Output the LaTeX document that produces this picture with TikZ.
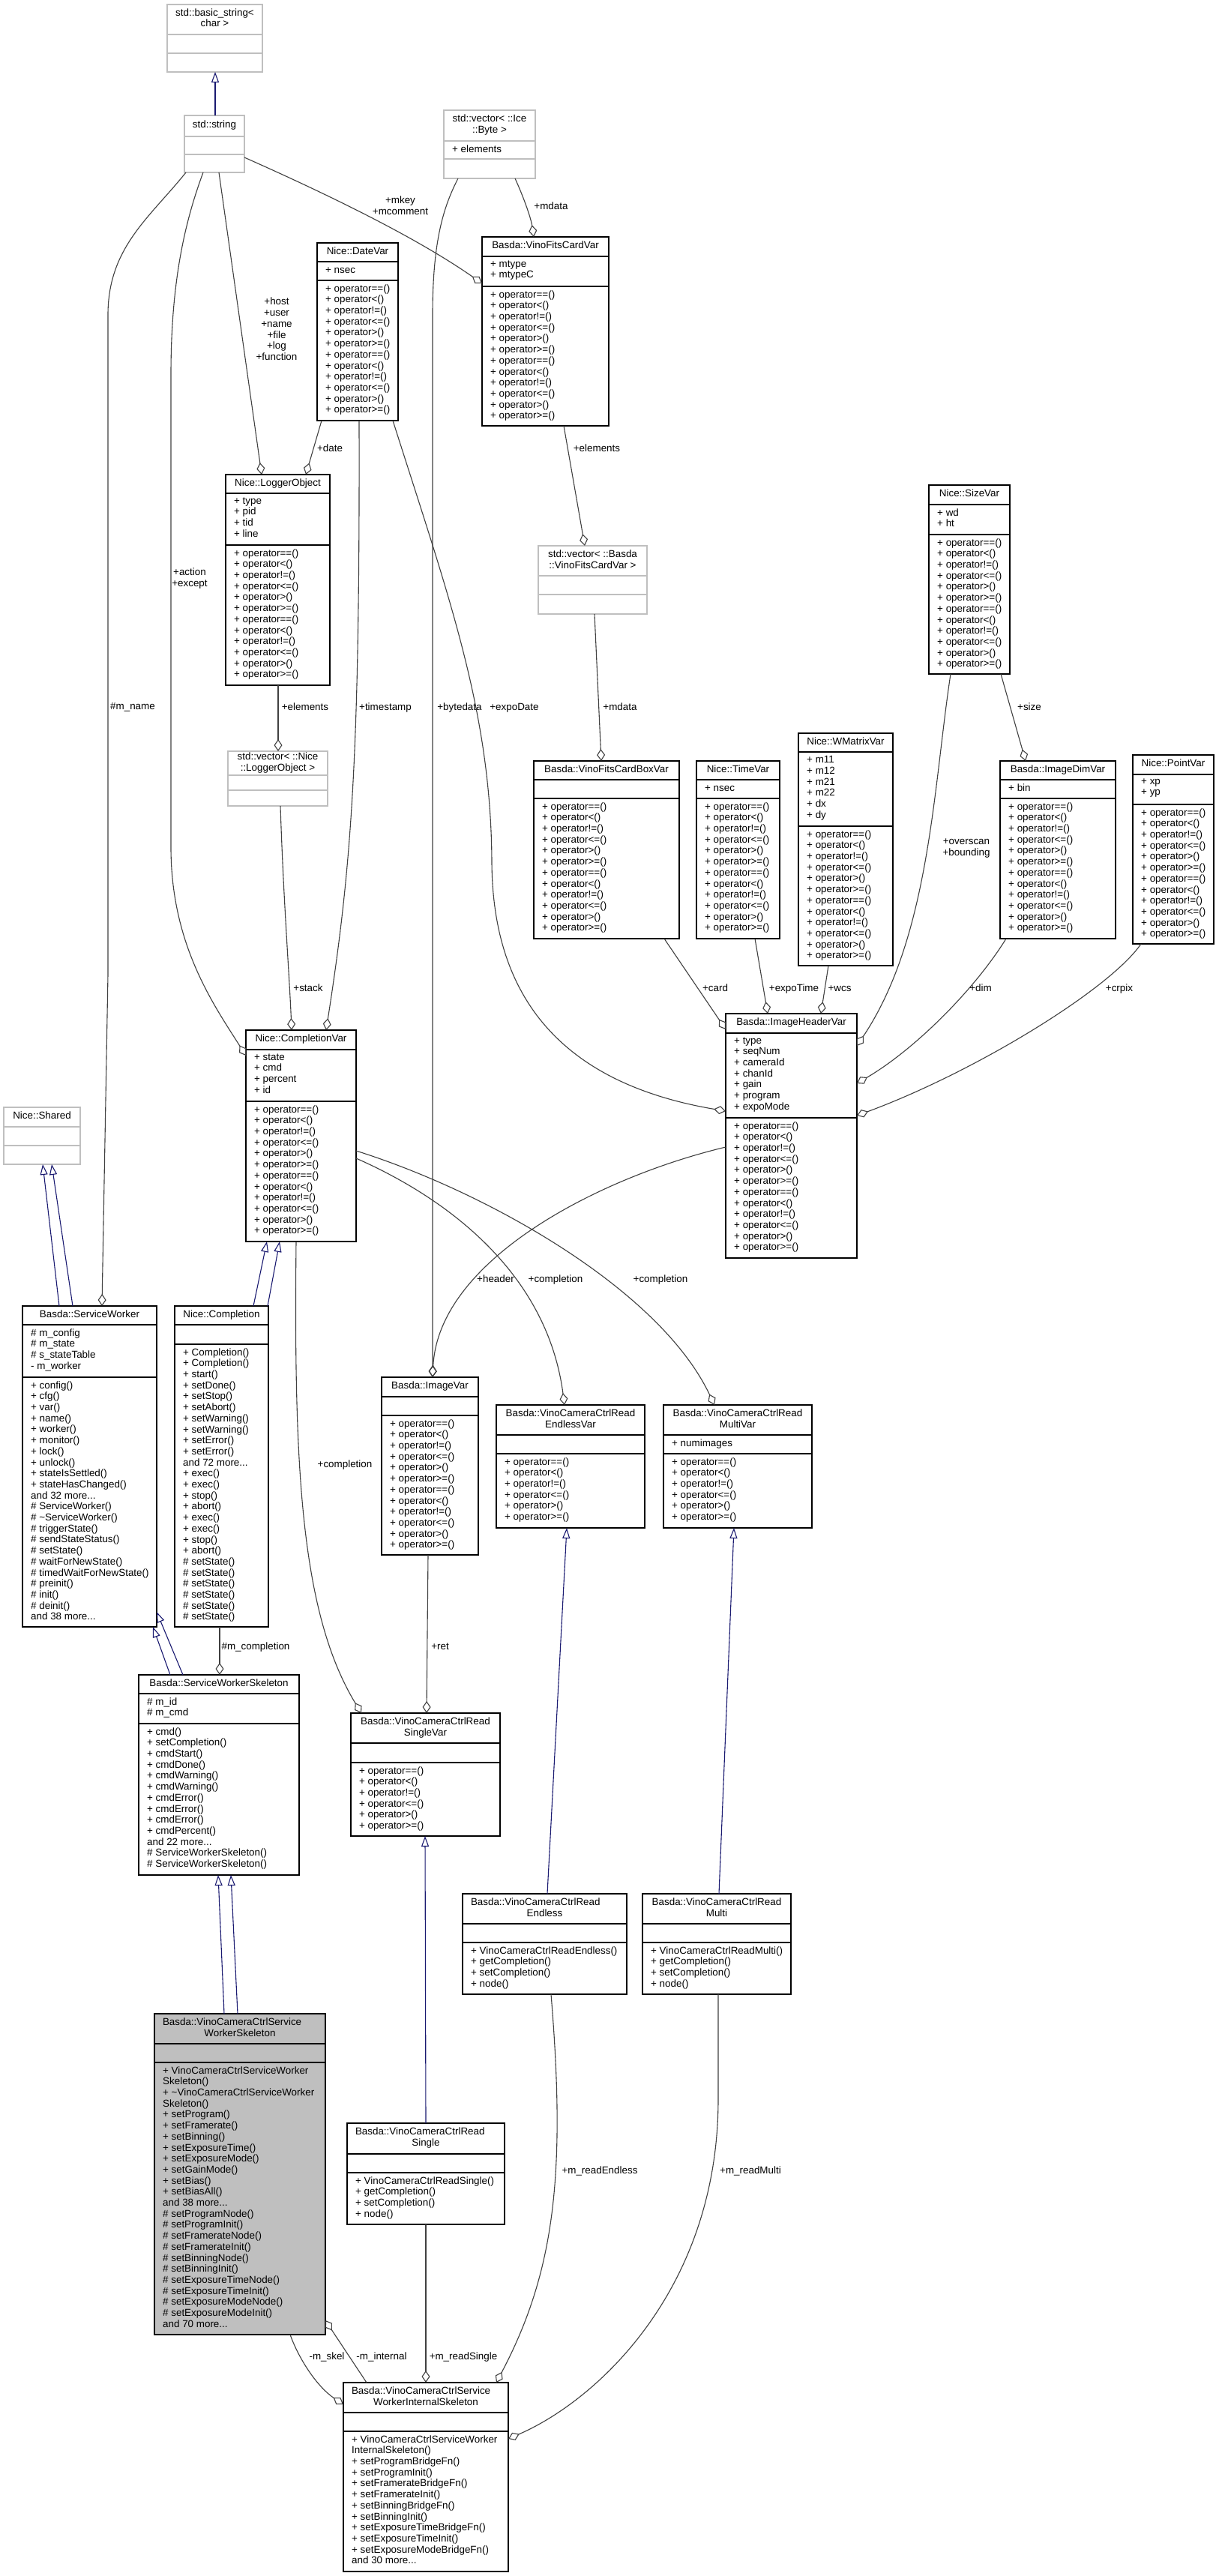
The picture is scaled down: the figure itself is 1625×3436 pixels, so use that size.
\documentclass[tikz,border=0pt]{standalone}
\usepackage{fontspec}
\setmainfont{Liberation Sans}
\usetikzlibrary{arrows.meta,fit}
\definecolor{edgegray}{HTML}{404040}
\definecolor{inhblue}{HTML}{191970}
\definecolor{boxgray}{HTML}{BFBFBF}
\newcommand{\umlfont}{\fontsize{13.4}{14.7}\selectfont}
\newcommand{\opsSix}{+ operator==()\\+ operator<()\\+ operator!=()\\+ operator<=()\\+ operator>()\\+ operator>=()}
\newcommand{\opsTwelve}{\opsSix\\\opsSix}
\newcommand{\lft}[2]{\makebox[#1pt][l]{#2}}
\tikzset{
  doc box/.style={draw=black, fill=white, line width=1.4pt, inner sep=0pt, outer sep=0pt},
  doc sep/.style={draw=black, line width=1.4pt},
  ext box/.style={draw=boxgray, fill=white, line width=1.4pt, inner sep=0pt, outer sep=0pt},
  ext sep/.style={draw=boxgray, line width=1.4pt},
  main box/.style={draw=black, fill=boxgray, line width=1.4pt, inner sep=0pt, outer sep=0pt},
  main sep/.style={draw=black, line width=1.4pt},
  titletext/.style={inner sep=0pt, align=center, font=\umlfont, execute at begin node=\strut, execute at end node=\strut},
  members/.style={inner sep=0pt, align=left, anchor=north west, font=\umlfont, execute at begin node=\strut},
  elabel/.style={inner sep=0pt, align=center, font=\umlfont, execute at begin node=\strut, execute at end node=\strut},
  inh/.style={draw=inhblue, line width=1.1pt, -{Triangle[open, length=14pt, width=10pt]}},
  agg/.style={draw=edgegray, line width=1.1pt, -{Diamond[open, length=16pt, width=11pt]}},
}
% name, kind, x1, y1, x2, y2, sep1, sep2, title
\newcommand{\umlclass}[9]{%
  \node[#2 box, fit={(#3,#4) (#5,#6)}] (#1) {};
  \draw[#2 sep] (#3,#7) -- (#5,#7) (#3,#8) -- (#5,#8);
  \node[titletext] (#1-t) at ({(#3+#5)/2},{(#4+#7)/2}) {#9};
}
\newcommand{\umltext}[4]{%
  \node[members] (#1) at ({#2+11},{#3+5.2}) {#4};
}
\begin{document}
\begin{tikzpicture}[x=1pt,y=-1pt]
\useasboundingbox (0,0) rectangle (1625,3436);
\fill[white] (0,0) rectangle (1625,3436);

% ---------------- classes ----------------
\umlclass{basic}{ext}{223}{6}{350}{96}{46}{71}{std::basic\_string<\\char >}
\umlclass{str}{ext}{246}{154}{326}{230}{182}{206}{std::string}
\umlclass{icebyte}{ext}{592}{147}{714}{238}{188}{212}{std::vector< ::Ice\\::Byte >}
\umltext{icebyte-a}{592}{188}{+ elements}

\umlclass{datevar}{doc}{423}{324}{531}{561}{349}{374}{Nice::DateVar}
\umltext{datevar-a}{423}{349}{+ nsec}
\umltext{datevar-m}{423}{374}{\opsTwelve}

\umlclass{fitscard}{doc}{643}{316}{812}{568}{342}{382}{Basda::VinoFitsCardVar}
\umltext{fitscard-a}{643}{342}{+ mtype\\+ mtypeC}
\umltext{fitscard-m}{643}{382}{\opsTwelve}

\umlclass{logger}{doc}{301}{633}{440}{914}{658}{727}{Nice::LoggerObject}
\umltext{logger-a}{301}{658}{+ type\\+ pid\\+ tid\\+ line}
\umltext{logger-m}{301}{727}{\opsTwelve}

\umlclass{vecfits}{ext}{718}{728}{863}{819}{768}{793}{std::vector< ::Basda\\::VinoFitsCardVar >}

\umlclass{sizevar}{doc}{1239}{647}{1347}{899}{673}{713}{Nice::SizeVar}
\umltext{sizevar-a}{1239}{673}{+ wd\\+ ht}
\umltext{sizevar-m}{1239}{713}{\opsTwelve}

\umlclass{fitsbox}{doc}{712}{1015}{906}{1252}{1040}{1065}{Basda::VinoFitsCardBoxVar}
\umltext{fitsbox-m}{712}{1065}{\opsTwelve}

\umlclass{timevar}{doc}{929}{1015}{1040}{1252}{1040}{1065}{Nice::TimeVar}
\umltext{timevar-a}{929}{1040}{+ nsec}
\umltext{timevar-m}{929}{1065}{\opsTwelve}

\umlclass{wmatrix}{doc}{1065}{978}{1191}{1288}{1003}{1102}{Nice::WMatrixVar}
\umltext{wmatrix-a}{1065}{1003}{+ m11\\+ m12\\+ m21\\+ m22\\+ dx\\+ dy}
\umltext{wmatrix-m}{1065}{1102}{\opsTwelve}

\umlclass{imagedim}{doc}{1334}{1015}{1488}{1252}{1040}{1065}{Basda::ImageDimVar}
\umltext{imagedim-a}{1334}{1040}{+ bin}
\umltext{imagedim-m}{1334}{1065}{\opsTwelve}

\umlclass{pointvar}{doc}{1511}{1007}{1619}{1259}{1033}{1073}{Nice::PointVar}
\umltext{pointvar-a}{1511}{1033}{+ xp\\+ yp}
\umltext{pointvar-m}{1511}{1073}{\opsTwelve}

\umlclass{veclog}{ext}{304}{1002}{437}{1075}{1034}{1054}{std::vector< ::Nice\\::LoggerObject >}

\umlclass{compvar}{doc}{328}{1374}{475}{1656}{1400}{1469}{Nice::CompletionVar}
\umltext{compvar-a}{328}{1400}{+ state\\+ cmd\\+ percent\\+ id}
\umltext{compvar-m}{328}{1469}{\opsTwelve}

\umlclass{header}{doc}{968}{1352}{1143}{1678}{1378}{1491}{Basda::ImageHeaderVar}
\umltext{header-a}{968}{1378}{+ type\\+ seqNum\\+ cameraId\\+ chanId\\+ gain\\+ program\\+ expoMode}
\umltext{header-m}{968}{1491}{\opsTwelve}

\umlclass{shared}{ext}{5}{1477}{107}{1553}{1503}{1528}{Nice::Shared}

\umlclass{sw}{doc}{30}{1742}{209}{2170}{1767}{1837}{Basda::ServiceWorker}
\umltext{sw-a}{30}{1767}{\# m\_config\\\# m\_state\\\# s\_stateTable\\- m\_worker}
\umltext{sw-m}{30}{1837}{+ config()\\+ cfg()\\+ var()\\+ name()\\+ worker()\\+ monitor()\\+ lock()\\+ unlock()\\+ stateIsSettled()\\+ stateHasChanged()\\and 32 more...\\\# ServiceWorker()\\\# \textasciitilde ServiceWorker()\\\# triggerState()\\\# sendStateStatus()\\\# setState()\\\# waitForNewState()\\\# timedWaitForNewState()\\\# preinit()\\\# init()\\\# deinit()\\and 38 more...}

\umlclass{completion}{doc}{233}{1742}{358}{2170}{1767}{1793}{Nice::Completion}
\umltext{completion-m}{233}{1793}{+ Completion()\\+ Completion()\\+ start()\\+ setDone()\\+ setStop()\\+ setAbort()\\+ setWarning()\\+ setWarning()\\+ setError()\\+ setError()\\and 72 more...\\+ exec()\\+ exec()\\+ stop()\\+ abort()\\+ exec()\\+ exec()\\+ stop()\\+ abort()\\\# setState()\\\# setState()\\\# setState()\\\# setState()\\\# setState()\\\# setState()}

\umlclass{imagevar}{doc}{509}{1837}{638}{2074}{1863}{1888}{Basda::ImageVar}
\umltext{imagevar-m}{509}{1888}{\opsTwelve}

\umlclass{endlessvar}{doc}{662}{1874}{860}{2038}{1914}{1939}{Basda::VinoCameraCtrlRead\\EndlessVar}
\umltext{endlessvar-m}{662}{1939}{\opsSix}

\umlclass{multivar}{doc}{885}{1874}{1083}{2038}{1914}{1939}{Basda::VinoCameraCtrlRead\\MultiVar}
\umltext{multivar-a}{885}{1914}{+ numimages}
\umltext{multivar-m}{885}{1939}{\opsSix}

\umlclass{swskel}{doc}{185}{2234}{399}{2501}{2259}{2299}{Basda::ServiceWorkerSkeleton}
\umltext{swskel-a}{185}{2259}{\# m\_id\\\# m\_cmd}
\umltext{swskel-m}{185}{2299}{+ cmd()\\+ setCompletion()\\+ cmdStart()\\+ cmdDone()\\+ cmdWarning()\\+ cmdWarning()\\+ cmdError()\\+ cmdError()\\+ cmdError()\\+ cmdPercent()\\and 22 more...\\\# ServiceWorkerSkeleton()\\\# ServiceWorkerSkeleton()}

\umlclass{singlevar}{doc}{468}{2285}{667}{2449}{2325}{2351}{Basda::VinoCameraCtrlRead\\SingleVar}
\umltext{singlevar-m}{468}{2351}{\opsSix}

\umlclass{endless}{doc}{617}{2526}{836}{2660}{2566}{2591}{\lft{197}{Basda::VinoCameraCtrlRead}\\Endless}
\umltext{endless-m}{617}{2591}{+ VinoCameraCtrlReadEndless()\\+ getCompletion()\\+ setCompletion()\\+ node()}

\umlclass{multi}{doc}{857}{2526}{1055}{2660}{2566}{2591}{Basda::VinoCameraCtrlRead\\Multi}
\umltext{multi-m}{857}{2591}{+ VinoCameraCtrlReadMulti()\\+ getCompletion()\\+ setCompletion()\\+ node()}

\umlclass{vskel}{main}{206}{2686}{434}{3114}{2726}{2751}{\lft{206}{Basda::VinoCameraCtrlService}\\WorkerSkeleton}
\umltext{vskel-m}{206}{2751}{+ VinoCameraCtrlServiceWorker\\Skeleton()\\+ \textasciitilde VinoCameraCtrlServiceWorker\\Skeleton()\\+ setProgram()\\+ setFramerate()\\+ setBinning()\\+ setExposureTime()\\+ setExposureMode()\\+ setGainMode()\\+ setBias()\\+ setBiasAll()\\and 38 more...\\\# setProgramNode()\\\# setProgramInit()\\\# setFramerateNode()\\\# setFramerateInit()\\\# setBinningNode()\\\# setBinningInit()\\\# setExposureTimeNode()\\\# setExposureTimeInit()\\\# setExposureModeNode()\\\# setExposureModeInit()\\and 70 more...}

\umlclass{single}{doc}{463}{2832}{673}{2967}{2873}{2898}{\lft{188}{Basda::VinoCameraCtrlRead}\\Single}
\umltext{single-m}{463}{2898}{+ VinoCameraCtrlReadSingle()\\+ getCompletion()\\+ setCompletion()\\+ node()}

\umlclass{internal}{doc}{458}{3178}{678}{3430}{3218}{3243}{\lft{198}{Basda::VinoCameraCtrlService}\\WorkerInternalSkeleton}
\umltext{internal-m}{458}{3243}{+ VinoCameraCtrlServiceWorker\\InternalSkeleton()\\+ setProgramBridgeFn()\\+ setProgramInit()\\+ setFramerateBridgeFn()\\+ setFramerateInit()\\+ setBinningBridgeFn()\\+ setBinningInit()\\+ setExposureTimeBridgeFn()\\+ setExposureTimeInit()\\+ setExposureModeBridgeFn()\\and 30 more...}

% ---------------- inheritance ----------------
\draw[inh] (287,0 |- str.north) -- (287,0 |- basic.south);
\draw[inh] (79,0 |- sw.north) -- (57,0 |- shared.south);
\draw[inh] (97,0 |- sw.north) -- (69,0 |- shared.south);
\draw[inh] (338,0 |- completion.north) -- (356,0 |- compvar.south);
\draw[inh] (357,0 |- completion.north) -- (373,0 |- compvar.south);
\draw[inh] (227,0 |- swskel.north) -- (204,0 |- sw.south);
\draw[inh] (244,0 |- swskel.north) -- (sw.east |- 0,2150);
\draw[inh] (299,0 |- vskel.north) -- (291,0 |- swskel.south);
\draw[inh] (317,0 |- vskel.north) -- (308,0 |- swskel.south);
\draw[inh] (730,0 |- endless.north) -- (756,0 |- endlessvar.south);
\draw[inh] (959,0 |- multi.north) -- (979,0 |- multivar.south);
\draw[inh] (568,0 |- single.north) -- (567,0 |- singlevar.south);

% ---------------- aggregation ----------------
\draw[agg] (str.east |- 0,210) .. controls (450,265) and (560,320) .. (fitscard.west |- 0,378);
\draw[agg] (687,0 |- icebyte.south) .. controls (698,262) and (708,290) .. (712,0 |- fitscard.north);
\draw[agg] (292,0 |- str.south) -- (349,0 |- logger.north);
\draw[agg] (429,0 |- datevar.south) -- (408,0 |- logger.north);
\draw[agg] (752,0 |- fitscard.south) -- (780,0 |- vecfits.north);
\draw[agg] (793,0 |- vecfits.south) -- (802,0 |- fitsbox.north);
\draw[agg] (371,0 |- logger.south) -- (371,0 |- veclog.north);
\draw[agg] (374,0 |- veclog.south) .. controls (378,1200) and (386,1300) .. (389,0 |- compvar.north);
\draw[agg] (479,0 |- datevar.south) .. controls (480,1000) and (470,1150) .. (435,0 |- compvar.north);
\draw[agg] (524,0 |- datevar.south) .. controls (600,800) and (655,950) .. (656,1150) .. controls (657,1300) and (720,1440) .. (header.west |- 0,1482);
\draw[agg] (611,0 |- icebyte.south) .. controls (592,275) and (577,320) .. (577,420) -- (577,0 |- imagevar.north);
\draw[agg] (271,0 |- str.south) .. controls (245,300) and (228,380) .. (228,500) -- (228,1130) .. controls (228,1260) and (285,1340) .. (compvar.west |- 0,1408);
\draw[agg] (248,0 |- str.south) .. controls (200,290) and (144,330) .. (144,420) -- (144,1300) -- (136,0 |- sw.north);
\draw[agg] (1268,0 |- sizevar.south) .. controls (1245,1050) and (1240,1250) .. (header.east |- 0,1395);
\draw[agg] (1335,0 |- sizevar.south) -- (1368,0 |- imagedim.north);
\draw[agg] (886,0 |- fitsbox.south) -- (header.west |- 0,1373);
\draw[agg] (1007,0 |- timevar.south) -- (1024,0 |- header.north);
\draw[agg] (1105,0 |- wmatrix.south) -- (1095,0 |- header.north);
\draw[agg] (1342,0 |- imagedim.south) .. controls (1300,1320) and (1220,1400) .. (header.east |- 0,1445);
\draw[agg] (1522,0 |- pointvar.south) .. controls (1480,1320) and (1300,1430) .. (header.east |- 0,1488);
\draw[agg] (header.west |- 0,1530) .. controls (800,1570) and (585,1680) .. (577,0 |- imagevar.north);
\draw[agg] (compvar.east |- 0,1545) .. controls (600,1600) and (730,1700) .. (753,0 |- endlessvar.north);
\draw[agg] (compvar.east |- 0,1535) .. controls (650,1590) and (880,1720) .. (953,0 |- multivar.north);
\draw[agg] (395,0 |- compvar.south) .. controls (392,1950) and (400,2150) .. (482,0 |- singlevar.north);
\draw[agg] (571,0 |- imagevar.south) -- (569,0 |- singlevar.north);
\draw[agg] (293,0 |- completion.south) -- (293,0 |- swskel.north);
\draw[agg] (387,0 |- vskel.south) .. controls (400,3150) and (425,3185) .. (internal.west |- 0,3207);
\draw[agg] (489,0 |- internal.north) -- (vskel.east |- 0,3095);
\draw[agg] (568,0 |- single.south) -- (568,0 |- internal.north);
\draw[agg] (735,0 |- endless.south) .. controls (755,2900) and (740,3030) .. (662,0 |- internal.north);
\draw[agg] (958,0 |- multi.south) -- (958,2800) .. controls (958,3050) and (800,3200) .. (internal.east |- 0,3253);

% ---------------- labels ----------------
\node[elabel] (l-mkey) at (534,276) {+mkey\\+mcomment};
\node[elabel] (l-mdata1) at (735,277) {+mdata};
\node[elabel] (l-host) at (369,441) {+host\\+user\\+name\\+file\\+log\\+function};
\node[elabel] (l-date) at (440,600) {+date};
\node[elabel] (l-elem1) at (796,600) {+elements};
\node[elabel] (l-action) at (253,772) {+action\\+except};
\node[elabel] (l-mname) at (177,944) {\#m\_name};
\node[elabel] (l-elem2) at (407,945) {+elements};
\node[elabel] (l-timestamp) at (514,945) {+timestamp};
\node[elabel] (l-bytedata) at (613,945) {+bytedata};
\node[elabel] (l-expodate) at (686,945) {+expoDate};
\node[elabel] (l-mdata2) at (827,945) {+mdata};
\node[elabel] (l-size) at (1373,945) {+size};
\node[elabel] (l-overscan) at (1289,1132) {+overscan\\+bounding};
\node[elabel] (l-stack) at (411,1320) {+stack};
\node[elabel] (l-card) at (954,1320) {+card};
\node[elabel] (l-expotime) at (1059,1320) {+expoTime};
\node[elabel] (l-wcs) at (1120,1320) {+wcs};
\node[elabel] (l-dim) at (1308,1320) {+dim};
\node[elabel] (l-crpix) at (1493,1320) {+crpix};
\node[elabel] (l-header) at (661,1708) {+header};
\node[elabel] (l-comp1) at (741,1708) {+completion};
\node[elabel] (l-comp2) at (881,1708) {+completion};
\node[elabel] (l-comp3) at (460,1955) {+completion};
\node[elabel] (l-mcomp) at (341,2198) {\#m\_completion};
\node[elabel] (l-ret) at (587,2198) {+ret};
\node[elabel] (l-rendless) at (800,2897) {+m\_readEndless};
\node[elabel] (l-rmulti) at (1001,2897) {+m\_readMulti};
\node[elabel] (l-skel) at (436,3145) {-m\_skel};
\node[elabel] (l-internal) at (509,3145) {-m\_internal};
\node[elabel] (l-rsingle) at (618,3145) {+m\_readSingle};
\end{tikzpicture}
\end{document}
